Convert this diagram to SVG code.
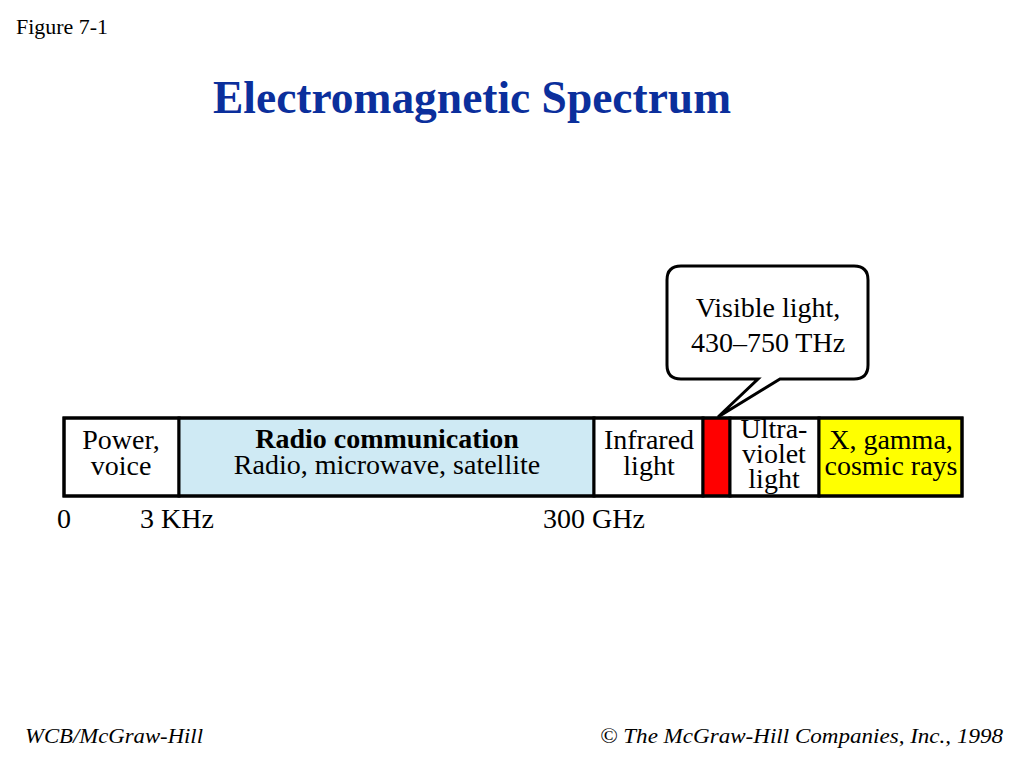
<svg xmlns="http://www.w3.org/2000/svg" width="1024" height="768" viewBox="0 0 1024 768">
<style>
.t{font-family:"Liberation Serif","Times New Roman",serif;fill:#000}
.lbl{font-size:28px;text-anchor:middle}
.box{stroke:#000;stroke-width:3}
</style>
<rect width="1024" height="768" fill="#fff"/>
<text class="t" x="16" y="34" font-size="21" textLength="92" lengthAdjust="spacingAndGlyphs">Figure 7-1</text>
<text class="t" x="213" y="113" font-size="46" font-weight="bold" style="fill:#0b2f9c" textLength="518" lengthAdjust="spacingAndGlyphs">Electromagnetic Spectrum</text>

<g id="bar">
<g id="power"><rect class="box" x="64" y="418" width="115" height="78" fill="#fff"/>
<text class="t lbl" x="121" y="449">Power,</text><text class="t lbl" x="121" y="475">voice</text></g>
<g id="radio"><rect class="box" x="179" y="418" width="415" height="78" fill="#cfeaf4"/>
<text class="t lbl" x="387" y="448" font-weight="bold">Radio communication</text>
<text class="t lbl" x="387" y="474">Radio, microwave, satellite</text></g>
<g id="infrared"><rect class="box" x="594" y="418" width="109" height="78" fill="#fff"/>
<text class="t lbl" x="649" y="449">Infrared</text><text class="t lbl" x="649" y="475">light</text></g>
<g id="visible"><rect class="box" x="703" y="418" width="27" height="78" fill="#ff0000"/></g>
<g id="uv"><rect class="box" x="730" y="418" width="89" height="78" fill="#fff"/>
<text class="t lbl" x="774" y="438">Ultra-</text><text class="t lbl" x="774" y="463">violet</text><text class="t lbl" x="774" y="488">light</text></g>
<g id="xray"><rect class="box" x="819" y="418" width="143" height="78" fill="#ffff00"/>
<text class="t lbl" x="891" y="449">X, gamma,</text><text class="t lbl" x="891" y="475">cosmic rays</text></g>
<rect x="64" y="418" width="898" height="78" fill="none" stroke="#000" stroke-width="3"/>
</g>

<g id="axis">
<text class="t" x="57" y="528" font-size="28">0</text>
<text class="t" x="140" y="528" font-size="28">3 KHz</text>
<text class="t" x="543" y="528" font-size="28">300 GHz</text>
</g>

<g id="callout">
<path d="M681,266 H854 Q868,266 868,280 V365 Q868,379 854,379 H780 L718,417 L758,379 H681 Q667,379 667,365 V280 Q667,266 681,266 Z" fill="#fff" stroke="#000" stroke-width="3" stroke-linejoin="miter"/>
<text class="t" x="768" y="317" font-size="28" text-anchor="middle">Visible light,</text>
<text class="t" x="768" y="352" font-size="28" text-anchor="middle">430–750 THz</text>
</g>

<text class="t" x="25" y="743" font-size="21" font-style="italic" textLength="178" lengthAdjust="spacingAndGlyphs">WCB/McGraw-Hill</text>
<text class="t" x="600" y="743" font-size="21" font-style="italic" textLength="403" lengthAdjust="spacingAndGlyphs">© The McGraw-Hill Companies, Inc., 1998</text>
</svg>
